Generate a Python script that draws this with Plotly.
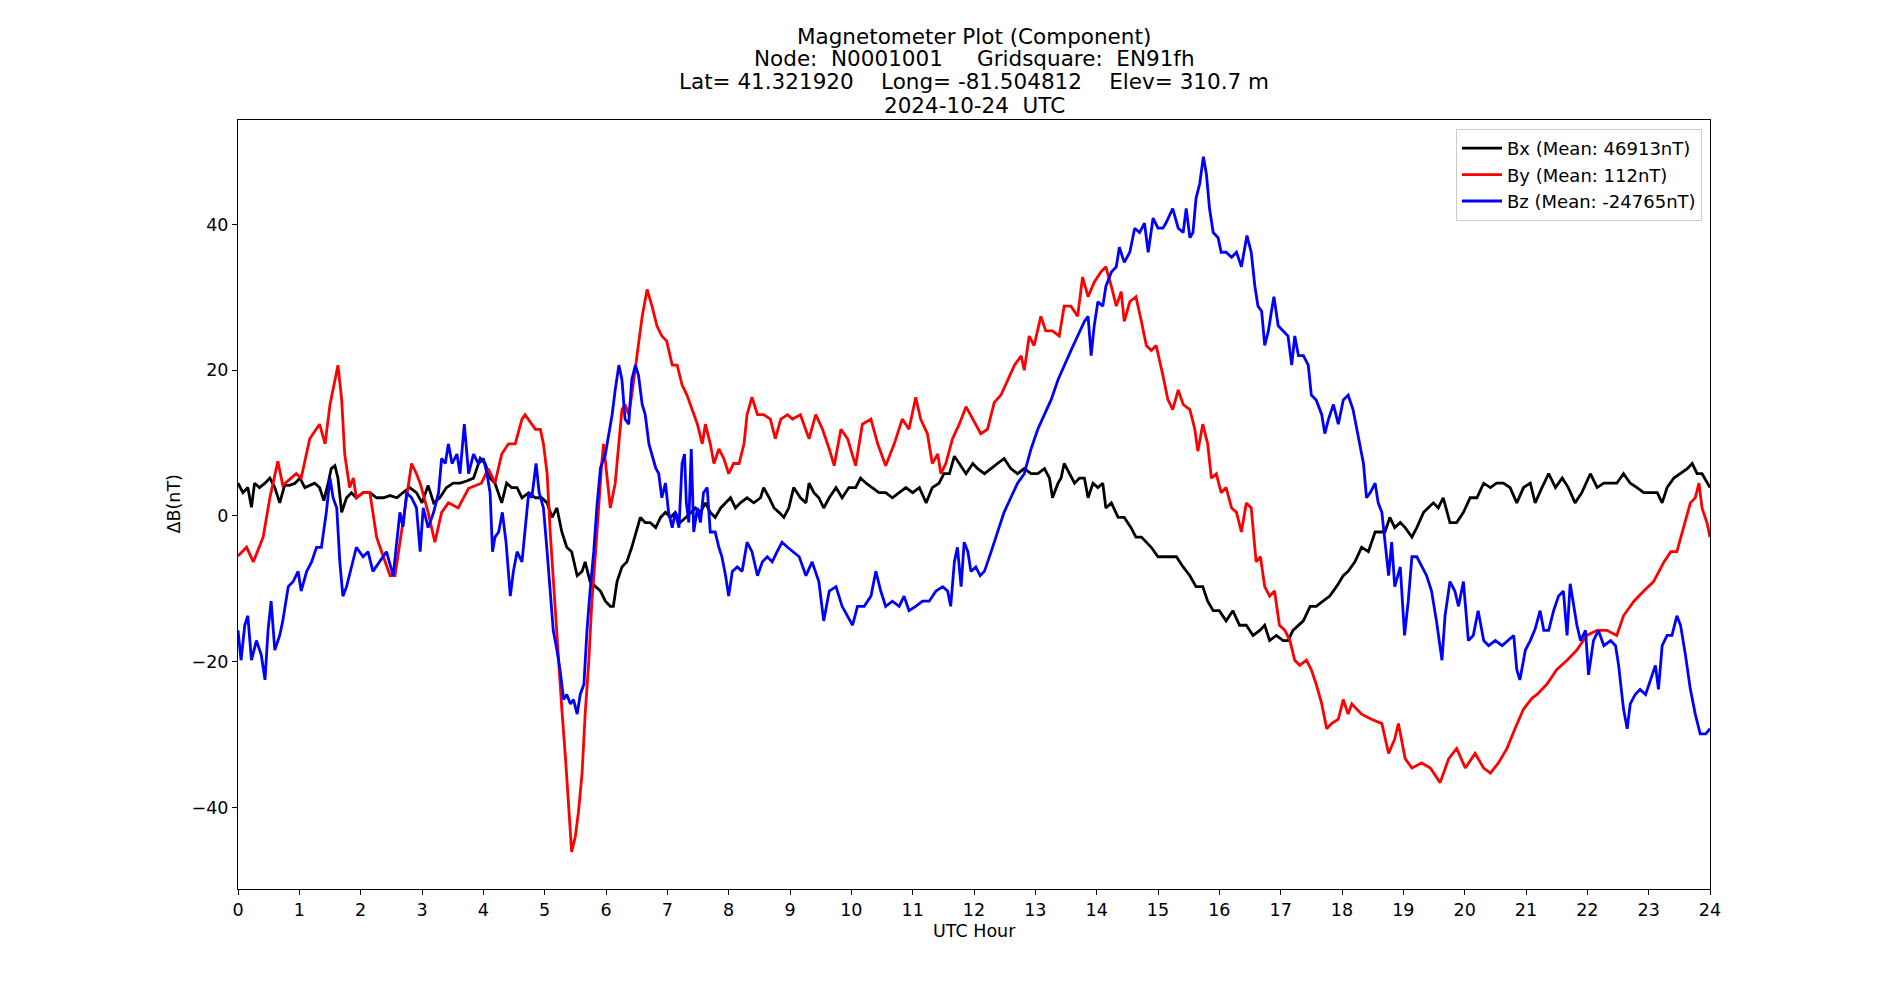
import plotly.graph_objects as go

# ---------------- data ----------------
bx_hours = [0.00,0.08,0.16,0.22,0.27,0.35,0.44,0.52,0.60,0.68,0.76,0.84,0.93,1.01,1.09,1.17,1.25,1.33,1.40,1.47,1.52,1.58,1.63,1.69,1.77,1.85,1.93,2.04,2.15,2.26,2.37,2.48,2.59,2.69,2.80,2.91,3.00,3.10,3.19,3.29,3.40,3.51,3.62,3.73,3.84,3.95,4.03,4.11,4.19,4.30,4.38,4.46,4.55,4.63,4.74,4.85,4.95,5.04,5.12,5.20,5.28,5.36,5.44,5.53,5.61,5.66,5.74,5.83,5.91,5.99,6.07,6.12,6.18,6.26,6.34,6.42,6.51,6.56,6.64,6.72,6.81,6.89,6.97,7.05,7.13,7.21,7.30,7.38,7.46,7.54,7.62,7.70,7.78,7.87,7.95,8.03,8.11,8.19,8.30,8.41,8.52,8.57,8.66,8.74,8.82,8.90,8.98,9.06,9.17,9.26,9.31,9.39,9.47,9.55,9.64,9.75,9.85,9.96,10.07,10.15,10.24,10.34,10.45,10.56,10.67,10.78,10.89,11.00,11.11,11.22,11.32,11.43,11.51,11.60,11.68,11.76,11.87,11.98,12.06,12.17,12.28,12.39,12.49,12.60,12.71,12.82,12.93,13.04,13.15,13.23,13.28,13.37,13.42,13.47,13.56,13.64,13.72,13.80,13.86,13.94,14.02,14.10,14.15,14.24,14.35,14.45,14.56,14.64,14.73,14.81,14.89,15.00,15.08,15.19,15.30,15.41,15.52,15.62,15.73,15.81,15.90,16.00,16.11,16.22,16.33,16.44,16.55,16.66,16.74,16.82,16.93,17.04,17.12,17.20,17.29,17.37,17.48,17.58,17.69,17.80,17.91,18.02,18.10,18.21,18.32,18.43,18.54,18.62,18.70,18.78,18.86,18.95,19.03,19.14,19.22,19.33,19.41,19.49,19.57,19.65,19.76,19.87,19.98,20.09,20.20,20.31,20.42,20.52,20.63,20.74,20.85,20.96,21.07,21.15,21.26,21.37,21.48,21.59,21.69,21.80,21.91,22.05,22.16,22.27,22.38,22.48,22.59,22.70,22.81,22.92,23.03,23.14,23.22,23.30,23.41,23.52,23.63,23.71,23.79,23.87,23.95,24.00]
bx_values = [4.5,3.2,3.9,1.2,4.5,3.9,4.5,5.2,3.9,1.8,4.2,4.2,4.5,5.2,3.9,4.2,4.5,3.9,2.1,4.5,6.5,6.9,5.2,0.5,2.5,3.2,2.5,3.2,3.2,2.5,2.5,2.8,2.5,3.2,3.9,3.2,1.8,4.2,1.8,2.5,3.9,4.5,4.5,4.8,5.2,7.9,7.2,5.2,4.5,1.8,4.5,3.9,3.9,2.5,3.2,2.5,2.5,1.8,-0.2,1.1,-2.2,-4.3,-4.9,-8.2,-7.6,-6.3,-9.0,-9.7,-10.3,-11.7,-12.4,-12.4,-9.0,-7.0,-6.3,-4.3,-1.6,-0.2,-0.9,-0.9,-1.6,-0.2,0.5,-0.2,0.5,-0.9,-0.2,0.5,1.1,0.5,1.8,0.5,-0.2,1.1,1.8,2.5,1.1,1.8,2.5,1.8,2.5,3.9,2.5,1.1,0.5,-0.2,1.1,3.9,2.5,1.8,4.5,3.2,2.5,1.1,2.5,3.9,2.5,3.9,3.9,5.2,4.5,3.9,3.2,3.2,2.5,3.2,3.9,3.2,3.9,1.8,3.9,4.5,5.8,5.8,8.2,7.2,5.8,7.2,6.5,5.8,6.5,7.2,7.9,6.5,5.8,6.5,5.8,5.8,6.5,5.2,2.5,4.5,5.2,7.2,5.8,4.5,5.2,5.2,2.5,4.5,3.9,4.5,1.1,1.8,-0.2,-0.2,-1.6,-2.9,-2.9,-3.6,-4.3,-5.6,-5.6,-5.6,-5.6,-7.0,-8.2,-9.7,-9.7,-11.7,-13.0,-13.0,-14.4,-13.0,-15.0,-15.0,-16.4,-15.7,-15.0,-17.1,-16.4,-17.1,-17.1,-15.7,-15.0,-14.4,-12.4,-12.4,-11.7,-11.0,-9.7,-8.2,-7.6,-6.3,-4.3,-4.9,-2.2,-2.2,-2.2,-0.2,-1.6,-0.9,-1.6,-2.9,-1.6,0.5,1.1,1.8,1.1,2.5,-0.9,-0.9,0.5,2.5,2.5,4.5,3.9,4.5,4.5,3.9,1.8,3.9,4.5,1.8,3.9,5.8,3.9,5.2,3.9,1.8,3.2,5.8,3.9,4.5,4.5,4.5,5.8,4.5,3.9,3.2,3.2,3.2,1.8,3.9,5.2,5.8,6.5,7.2,5.8,5.8,4.5,3.9]

by_hours = [0.00,0.14,0.25,0.41,0.52,0.65,0.73,0.95,1.03,1.17,1.33,1.42,1.50,1.58,1.63,1.69,1.74,1.82,1.88,1.93,2.04,2.15,2.26,2.37,2.48,2.56,2.64,2.75,2.83,2.91,2.97,3.10,3.21,3.32,3.43,3.59,3.76,3.97,4.08,4.19,4.30,4.41,4.52,4.63,4.68,4.85,4.93,4.98,5.04,5.09,5.17,5.23,5.28,5.34,5.39,5.44,5.50,5.55,5.61,5.66,5.72,5.77,5.83,5.88,5.93,5.96,6.04,6.07,6.15,6.21,6.26,6.31,6.37,6.42,6.51,6.59,6.67,6.75,6.83,6.91,6.99,7.08,7.16,7.24,7.32,7.40,7.49,7.57,7.62,7.70,7.76,7.84,7.92,8.00,8.08,8.17,8.25,8.30,8.38,8.47,8.57,8.68,8.76,8.85,8.96,9.04,9.17,9.31,9.42,9.53,9.64,9.72,9.83,9.94,10.07,10.18,10.32,10.43,10.56,10.70,10.83,10.94,11.05,11.13,11.24,11.32,11.41,11.46,11.54,11.65,11.76,11.87,11.98,12.11,12.22,12.33,12.44,12.55,12.66,12.77,12.82,12.90,12.98,13.09,13.17,13.28,13.39,13.47,13.58,13.69,13.77,13.86,13.96,14.07,14.15,14.24,14.32,14.40,14.45,14.54,14.64,14.73,14.81,14.89,14.97,15.08,15.16,15.24,15.33,15.41,15.52,15.60,15.65,15.73,15.81,15.87,15.95,16.03,16.11,16.20,16.28,16.36,16.44,16.52,16.60,16.67,16.74,16.82,16.90,16.98,17.07,17.15,17.23,17.31,17.42,17.50,17.58,17.67,17.75,17.83,17.94,18.02,18.10,18.16,18.32,18.48,18.65,18.76,18.86,18.92,19.03,19.14,19.30,19.44,19.60,19.74,19.87,20.01,20.17,20.31,20.42,20.55,20.69,20.82,20.96,21.10,21.18,21.34,21.50,21.67,21.83,21.99,22.16,22.32,22.48,22.59,22.76,22.92,23.08,23.25,23.36,23.46,23.57,23.68,23.76,23.82,23.87,23.95,24.00]
by_values = [-5.5,-4.3,-6.3,-2.9,2.5,7.5,4.2,5.8,5.2,10.6,12.6,9.9,15.3,18.7,20.7,16.0,8.5,3.9,5.2,2.5,3.2,3.2,-2.9,-5.6,-8.2,-8.2,-3.6,3.2,7.2,5.8,4.5,0.5,-3.6,0.5,1.8,1.1,3.8,4.5,6.5,4.5,8.5,9.9,9.9,13.3,13.9,11.9,11.9,9.9,5.8,-2.2,-13.0,-19.8,-26.5,-33.3,-40.0,-46.1,-44.0,-40.7,-35.3,-27.2,-19.8,-11.7,-5.0,1.9,7.2,9.9,3.2,1.1,4.5,10.6,14.6,15.3,13.9,16.6,22.0,27.4,31.1,28.8,26.1,24.7,24.0,20.7,20.7,18.0,16.6,14.6,12.6,9.9,12.6,9.9,7.2,9.2,7.9,5.8,7.2,7.2,9.9,13.9,16.3,13.9,13.9,13.3,10.6,13.3,13.9,13.3,13.9,10.6,13.9,11.9,9.2,6.9,11.9,10.6,6.9,12.6,13.3,9.9,6.9,9.9,13.3,11.9,16.3,13.3,11.3,7.2,8.5,5.8,7.2,10.6,12.6,15.0,13.3,11.3,11.9,15.6,16.6,18.7,20.7,22.0,20.0,24.7,23.4,27.4,25.4,25.4,24.7,28.8,28.8,27.4,32.8,30.1,32.1,33.5,34.2,31.5,28.8,30.8,26.7,29.4,30.1,26.7,23.4,22.7,23.4,19.3,16.0,14.6,17.3,15.3,14.6,11.9,8.9,12.6,9.9,5.2,5.8,3.2,3.9,1.1,0.5,-2.2,1.8,1.1,-6.3,-5.6,-9.7,-11.0,-10.3,-15.0,-15.7,-17.1,-19.8,-20.5,-19.8,-21.1,-23.1,-25.8,-29.2,-28.5,-27.9,-25.2,-27.2,-25.8,-27.2,-27.9,-28.5,-32.6,-30.6,-28.5,-33.3,-34.6,-33.9,-34.6,-36.6,-33.3,-31.9,-34.6,-32.6,-34.6,-35.3,-33.9,-31.9,-29.2,-26.5,-25.0,-24.5,-23.1,-21.1,-19.8,-18.4,-16.4,-15.7,-15.7,-16.4,-13.7,-11.7,-10.3,-9.0,-6.3,-4.9,-4.9,-1.6,1.8,2.5,4.5,1.1,-0.9,-2.9]

bz_hours = [0.00,0.05,0.11,0.16,0.22,0.30,0.38,0.44,0.49,0.54,0.60,0.68,0.73,0.82,0.90,0.98,1.03,1.12,1.20,1.28,1.36,1.44,1.50,1.55,1.61,1.66,1.71,1.77,1.85,1.93,2.04,2.12,2.20,2.31,2.42,2.53,2.59,2.64,2.69,2.75,2.83,2.91,2.97,3.02,3.10,3.19,3.27,3.32,3.38,3.43,3.49,3.57,3.62,3.69,3.76,3.84,3.92,4.00,4.06,4.11,4.15,4.19,4.25,4.31,4.37,4.44,4.49,4.55,4.63,4.68,4.74,4.79,4.86,4.91,4.98,5.04,5.09,5.14,5.20,5.25,5.31,5.36,5.42,5.47,5.53,5.58,5.64,5.69,5.74,5.80,5.85,5.91,5.99,6.05,6.10,6.15,6.21,6.26,6.31,6.37,6.42,6.48,6.53,6.59,6.64,6.70,6.75,6.81,6.86,6.91,6.97,7.02,7.08,7.13,7.19,7.24,7.28,7.31,7.35,7.39,7.43,7.49,7.54,7.59,7.65,7.70,7.78,7.84,7.89,7.95,8.00,8.06,8.14,8.22,8.30,8.38,8.47,8.55,8.63,8.71,8.79,8.87,8.96,9.04,9.15,9.26,9.36,9.47,9.55,9.64,9.75,9.85,9.94,10.02,10.10,10.21,10.32,10.40,10.48,10.56,10.67,10.78,10.86,10.94,11.05,11.16,11.27,11.38,11.49,11.57,11.62,11.68,11.73,11.79,11.84,11.90,11.95,12.03,12.10,12.17,12.28,12.39,12.49,12.60,12.71,12.82,12.93,13.04,13.15,13.26,13.37,13.47,13.58,13.69,13.80,13.86,13.91,13.96,14.02,14.10,14.15,14.24,14.32,14.37,14.45,14.54,14.62,14.70,14.78,14.84,14.92,15.00,15.08,15.13,15.24,15.33,15.41,15.46,15.52,15.57,15.62,15.68,15.74,15.79,15.84,15.90,15.98,16.03,16.11,16.20,16.28,16.36,16.45,16.52,16.58,16.63,16.69,16.74,16.80,16.85,16.89,16.96,17.04,17.12,17.18,17.23,17.29,17.37,17.45,17.50,17.58,17.67,17.72,17.78,17.86,17.94,18.02,18.10,18.18,18.24,18.29,18.35,18.40,18.46,18.54,18.59,18.65,18.70,18.76,18.81,18.86,18.95,19.02,19.08,19.14,19.22,19.30,19.38,19.46,19.54,19.63,19.68,19.76,19.84,19.90,19.98,20.06,20.14,20.22,20.31,20.39,20.50,20.61,20.71,20.80,20.85,20.90,20.99,21.07,21.15,21.23,21.29,21.37,21.45,21.53,21.61,21.67,21.72,21.78,21.83,21.89,21.97,22.02,22.10,22.18,22.27,22.38,22.46,22.51,22.59,22.65,22.70,22.78,22.86,22.95,23.03,23.11,23.16,23.22,23.30,23.38,23.46,23.52,23.60,23.68,23.76,23.84,23.93,24.00]
bz_values = [-15.7,-19.8,-15.0,-13.7,-19.8,-17.1,-19.1,-22.5,-15.7,-11.7,-18.4,-16.4,-14.4,-9.7,-9.0,-7.6,-10.3,-7.6,-6.3,-4.3,-4.3,0.5,5.2,2.5,1.1,-6.3,-11.0,-9.7,-7.0,-4.3,-5.6,-4.9,-7.6,-6.3,-4.9,-8.2,-2.9,0.5,-1.5,3.2,2.5,1.1,-4.9,1.1,-1.6,0.5,3.2,7.9,7.2,9.9,7.2,8.5,5.8,12.6,5.8,8.5,7.2,7.9,5.8,3.2,-4.9,-2.9,-2.2,0.5,-3.6,-11.0,-7.6,-4.9,-6.3,-2.2,3.2,2.5,7.2,3.2,1.1,-4.9,-11.0,-15.7,-18.4,-21.1,-25.2,-24.5,-25.8,-25.2,-27.2,-24.5,-23.1,-15.7,-10.3,-4.9,1.1,6.6,8.5,11.3,13.9,17.3,20.7,18.7,13.3,12.6,18.7,20.7,19.3,15.3,13.9,9.9,8.5,6.6,5.8,2.5,4.5,0.5,-1.6,0.5,-1.6,7.2,8.5,1.8,-0.9,9.2,-2.2,1.1,-0.9,3.2,3.9,-2.2,-2.2,-4.3,-5.6,-8.2,-11.0,-7.6,-7.0,-7.6,-3.6,-4.9,-8.2,-6.3,-5.6,-6.3,-4.9,-3.6,-4.3,-4.9,-5.6,-8.2,-6.3,-9.0,-14.4,-10.3,-9.7,-12.4,-13.7,-15.0,-12.4,-12.4,-11.0,-7.6,-10.3,-12.4,-11.7,-12.4,-11.0,-13.0,-12.4,-11.7,-11.7,-10.3,-9.7,-10.3,-12.4,-6.3,-4.3,-9.7,-3.6,-4.9,-7.6,-7.0,-8.2,-7.6,-4.9,-2.2,0.5,2.5,4.5,5.8,9.2,11.9,13.9,16.0,18.7,20.7,22.7,24.7,26.7,27.4,22.0,26.1,29.4,28.8,31.5,33.5,34.2,36.9,34.8,36.2,39.5,38.9,40.2,36.2,40.9,39.5,39.5,40.2,42.2,39.5,38.9,42.2,38.2,38.9,43.6,45.6,49.3,46.9,42.2,38.9,38.2,36.2,36.2,35.5,36.2,34.2,38.5,36.2,31.5,28.8,28.1,23.4,25.4,28.1,30.1,26.1,25.4,24.7,20.7,24.7,22.0,22.0,20.7,16.6,15.9,13.9,11.3,13.3,15.3,12.6,15.9,16.6,14.6,11.9,9.9,7.2,2.5,3.2,4.5,1.8,0.5,-3.6,-8.2,-3.6,-9.7,-7.0,-16.4,-11.7,-5.6,-5.6,-7.0,-8.2,-10.3,-14.4,-19.8,-13.7,-9.0,-10.3,-12.4,-9.0,-17.1,-16.4,-13.0,-17.1,-17.8,-17.1,-17.8,-17.1,-16.4,-21.1,-22.5,-18.4,-17.1,-15.5,-13.0,-15.7,-15.7,-13.0,-11.0,-10.3,-16.4,-9.3,-12.4,-15.0,-17.1,-15.7,-21.8,-17.1,-15.7,-17.8,-17.1,-17.8,-20.5,-26.5,-29.2,-25.8,-24.5,-23.8,-24.5,-22.5,-20.5,-23.8,-17.8,-16.4,-16.4,-13.7,-15.0,-19.1,-23.8,-27.2,-29.9,-29.9,-29.2]

series_names = ["Bx (Mean: 46913nT)", "By (Mean: 112nT)", "Bz (Mean: -24765nT)"]
series_colors = ["#000000", "#ff0000", "#0000ff"]
x_ticks = list(range(0, 25))
y_ticks = [-40, -20, 0, 20, 40]

title_lines = [
    "Magnetometer Plot (Component)",
    "Node:  N0001001     Gridsquare:  EN91fh",
    "Lat= 41.321920    Long= -81.504812    Elev= 310.7 m",
    "2024-10-24  UTC",
]

FONT = "DejaVu Sans"

fig = go.Figure()
for hrs, vals, name, col in zip([bx_hours, by_hours, bz_hours],
                                [bx_values, by_values, bz_values],
                                series_names, series_colors):
    fig.add_trace(go.Scatter(x=hrs, y=vals, mode="lines", name=name,
                             line=dict(color=col, width=2.8)))

L, R, T, B = 238, 190, 120, 111
W, H = 1900, 1000
pw = W - L - R
ph = H - T - B

annotations = []
centers = [36, 59, 81, 105]
for txt, yc in zip(title_lines, centers):
    annotations.append(dict(text=txt.replace(" ", "\u00a0"), xref="paper", yref="paper",
                            x=0.5, y=1 + (T - yc) / ph, xanchor="center", yanchor="middle",
                            showarrow=False, font=dict(family=FONT, size=21.5, color="black")))
annotations.append(dict(text="UTC Hour", xref="paper", yref="paper", x=0.5,
                        y=-(931 - (H - B)) / ph, xanchor="center", yanchor="middle",
                        showarrow=False, font=dict(family=FONT, size=17.5, color="black")))
annotations.append(dict(text="ΔB(nT)", xref="paper", yref="paper",
                        x=(173 - L) / pw, y=0.5, xanchor="center", yanchor="middle",
                        textangle=-90, showarrow=False,
                        font=dict(family=FONT, size=17.5, color="black")))

fig.update_layout(
    width=W, height=H,
    margin=dict(l=L, r=R, t=T, b=B),
    paper_bgcolor="white", plot_bgcolor="white",
    font=dict(family=FONT, size=17.5, color="black"),
    showlegend=True,
    legend=dict(x=(1702 - L) / pw, y=1 - (129 - T) / ph, xanchor="right", yanchor="top",
                bgcolor="rgba(255,255,255,0.8)", bordercolor="#cccccc", borderwidth=1,
                itemwidth=40,
                font=dict(family=FONT, size=18, color="black"), tracegroupgap=0),
    annotations=annotations,
)
fig.update_xaxes(range=[0, 24], tickmode="array", tickvals=x_ticks,
                 ticktext=[str(t) for t in x_ticks],
                 showgrid=False, zeroline=False, showline=True, mirror=True,
                 linecolor="black", linewidth=1.1, ticks="outside", ticklen=5,
                 tickwidth=1.1, tickcolor="black",
                 tickfont=dict(family=FONT, size=17.5, color="black"))
fig.update_yaxes(range=[-51.2, 54.35], tickmode="array", tickvals=y_ticks,
                 showgrid=False, zeroline=False, showline=True, mirror=True,
                 linecolor="black", linewidth=1.1, ticks="outside", ticklen=5,
                 tickwidth=1.1, tickcolor="black",
                 tickfont=dict(family=FONT, size=17.5, color="black"))

fig.write_html("out.html")
